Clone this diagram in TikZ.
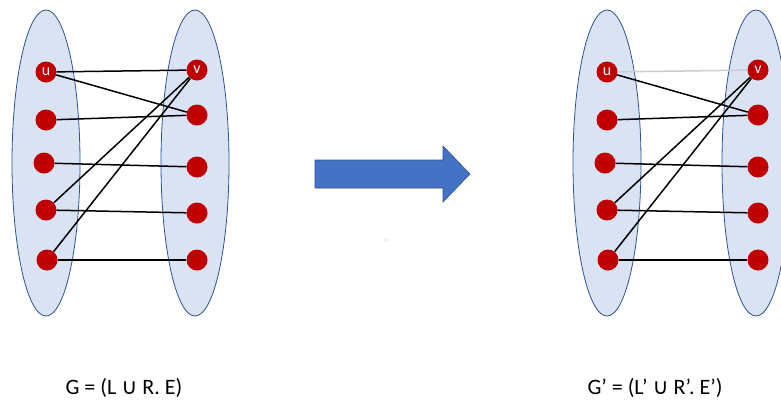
\documentclass[tikz,border=0pt]{standalone}
\usepackage{fontspec}
\setmainfont{Carlito}
\newfontfamily\symfont{DejaVu Sans}
\usetikzlibrary{shapes.geometric}
\definecolor{setfill}{HTML}{DAE3F3}
\definecolor{setline}{HTML}{2F528F}
\definecolor{vertred}{HTML}{C00000}
\definecolor{arrowblue}{HTML}{4472C4}
\tikzset{
  vset/.style={ellipse, draw=setline, fill=setfill, line width=0.8pt,
    minimum width=68pt, minimum height=306pt, inner sep=0pt},
  vert/.style={circle, fill=vertred, minimum size=21pt, inner sep=0pt,
    text=white, font=\fontsize{16}{16}\selectfont},
  edge/.style={black, line width=1.5pt},
  faint/.style={black!20, line width=1.5pt},
  caption/.style={font=\fontsize{22}{24}\selectfont, anchor=base}
}
\begin{document}
\begin{tikzpicture}[x=1pt,y=-1pt]
  \useasboundingbox (0,0) rectangle (781,400);
  \clip (0,0) rectangle (781,400);

  % ---- original graph G ----
  \node[vset] (L) at (46,163) {};
  \node[vset] (R) at (195,163) {};
  \node[vert] (u) at (46,72) {u};
  \node[vert] (l2) at (46,120) {};
  \node[vert] (l3) at (44,163) {};
  \node[vert] (l4) at (46,210) {};
  \node[vert] (l5) at (47,260) {};
  \node[vert] (v) at (197,70) {v};
  \node[vert] (r2) at (197,115) {};
  \node[vert] (r3) at (197,167) {};
  \node[vert] (r4) at (197,213) {};
  \node[vert] (r5) at (197,260) {};
  \draw[edge] (u) -- (v);
  \draw[edge] (u) -- (r2);
  \draw[edge] (l2) -- (r2);
  \draw[edge] (l3) -- (r3);
  \draw[edge] (l4) -- (r4);
  \draw[edge] (l5) -- (r5);
  \draw[edge] (l4) -- (v);
  \draw[edge] (l5) -- (v);

  % ---- transformation arrow ----
  \draw[setline, fill=arrowblue, line width=0.6pt]
    (315,160) -- (443,160) -- (443,146) -- (470,174) -- (443,202)
    -- (443,188) -- (315,188) -- cycle;
  \fill[black!40] (386,240) circle (0.6pt);

  % ---- resulting graph G' ----
  \node[vset] (L') at (607,163) {};
  \node[vset] (R') at (756,163) {};
  \node[vert] (u') at (607,72) {u};
  \node[vert] (l2') at (607,120) {};
  \node[vert] (l3') at (605,163) {};
  \node[vert] (l4') at (607,210) {};
  \node[vert] (l5') at (608,260) {};
  \node[vert] (v') at (758,70) {v};
  \node[vert] (r2') at (758,115) {};
  \node[vert] (r3') at (758,167) {};
  \node[vert] (r4') at (758,213) {};
  \node[vert] (r5') at (758,260) {};
  \draw[faint] (u') -- (v');
  \draw[edge] (u') -- (r2');
  \draw[edge] (l2') -- (r2');
  \draw[edge] (l3') -- (r3');
  \draw[edge] (l4') -- (r4');
  \draw[edge] (l5') -- (r5');
  \draw[edge] (l4') -- (v');
  \draw[edge] (l5') -- (v');

  % ---- captions ----
  \node[caption] (capG) at (124,394) {G = (L {\symfont ∪} R. E)};
  \node[caption] (capG') at (655,394) {G’ = (L’ {\symfont ∪} R’. E’)};
\end{tikzpicture}
\end{document}
